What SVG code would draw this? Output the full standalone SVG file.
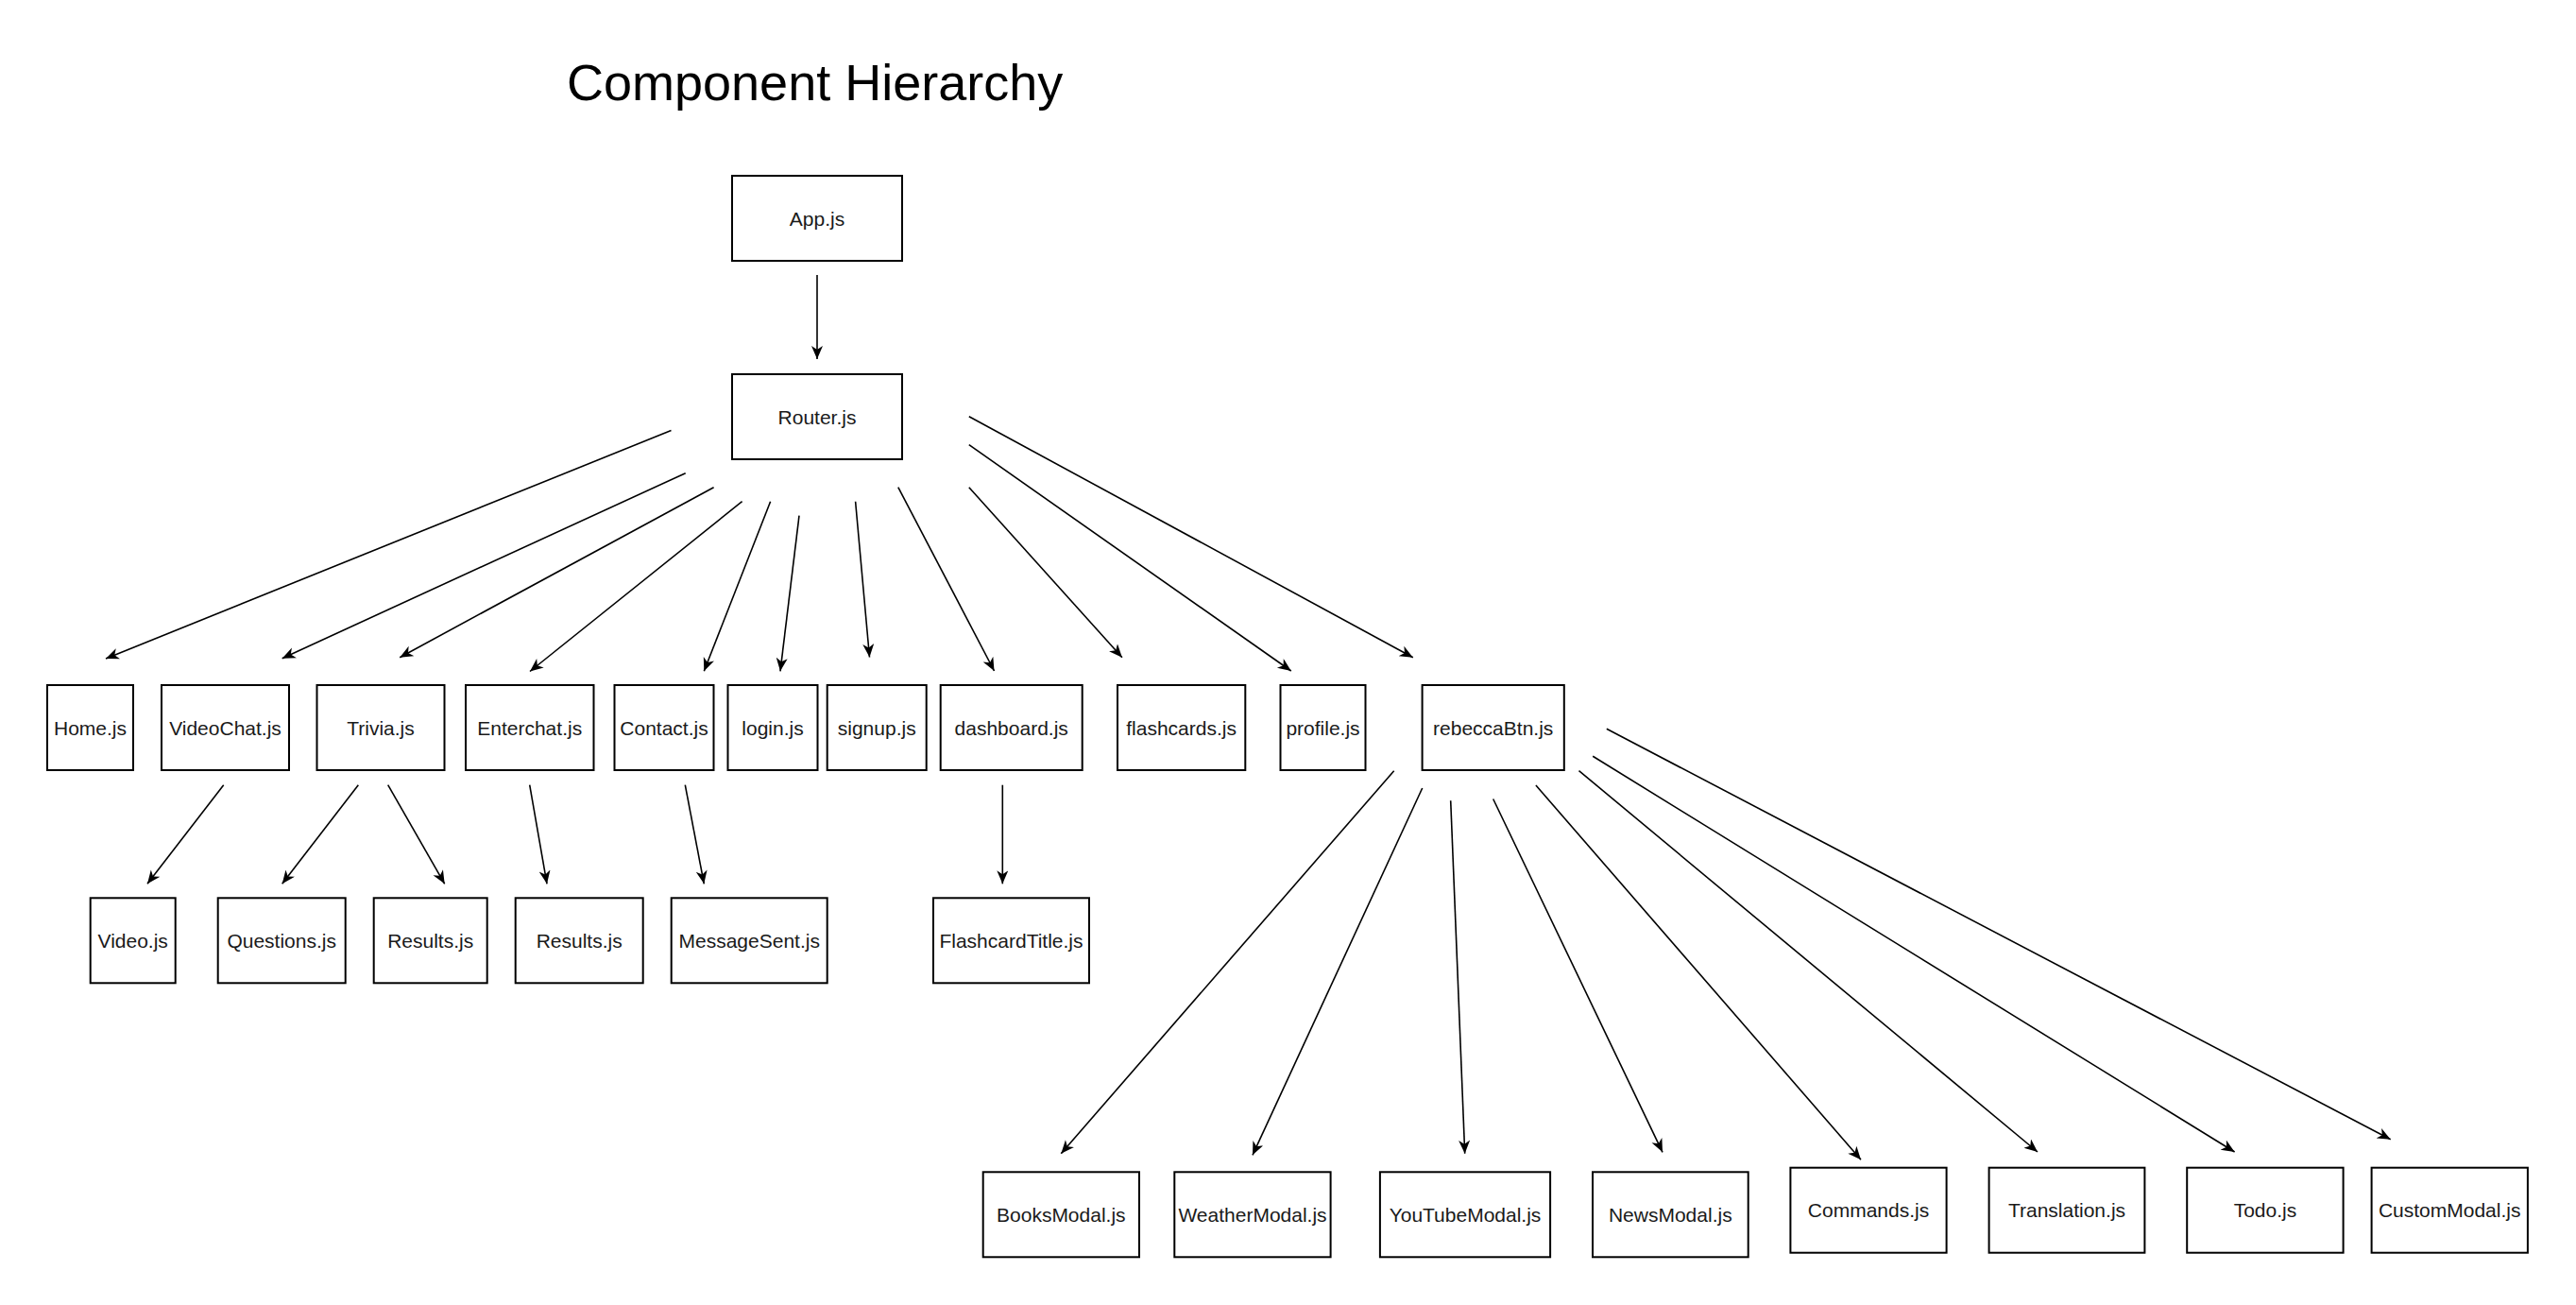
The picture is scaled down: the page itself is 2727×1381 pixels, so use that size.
<svg xmlns="http://www.w3.org/2000/svg" width="2727" height="1381" viewBox="0 0 2727 1381">
<style>
.n rect{fill:#fff;stroke:#000;stroke-width:2}
.n text{font-family:"Liberation Sans",Arial,sans-serif;font-size:21px;fill:#1a1a1a;text-anchor:middle;dominant-baseline:central}
.title{font-family:"Liberation Sans",Arial,sans-serif;font-size:54px;fill:#000}
#edges line{stroke:#000;stroke-width:1.6;marker-end:url(#arr)}
</style>
<defs>
<marker id="arr" markerUnits="userSpaceOnUse" markerWidth="16" markerHeight="14" refX="14" refY="6" orient="auto">
<path d="M0,0 L14,6 L0,12 L4,6 Z" fill="#000"/>
</marker>
</defs>
<rect width="2727" height="1381" fill="#fff"/>
<text class="title" x="600" y="106">Component Hierarchy</text>

<g id="edges">
<line x1="865" y1="291" x2="865" y2="380"/>
<line x1="710.5" y1="455.5" x2="112" y2="697"/>
<line x1="725.7" y1="500.7" x2="298.7" y2="696.7"/>
<line x1="755.6" y1="515.7" x2="423.2" y2="695.7"/>
<line x1="785.6" y1="530.7" x2="561" y2="710.5"/>
<line x1="815.6" y1="530.7" x2="745.3" y2="710.3"/>
<line x1="846" y1="545.7" x2="826" y2="710.3"/>
<line x1="905.6" y1="530.7" x2="920.5" y2="695.5"/>
<line x1="950.8" y1="515.7" x2="1052.5" y2="710"/>
<line x1="1025.8" y1="515.7" x2="1187.9" y2="695.7"/>
<line x1="1025.8" y1="470.7" x2="1366.8" y2="710"/>
<line x1="1025.8" y1="440.7" x2="1495.8" y2="695.7"/>
<line x1="236.7" y1="830.7" x2="156" y2="935.3"/>
<line x1="379.3" y1="830.7" x2="298.7" y2="935.3"/>
<line x1="410.7" y1="830.7" x2="470.7" y2="935.3"/>
<line x1="560.7" y1="830.7" x2="579" y2="935.3"/>
<line x1="725.3" y1="830.7" x2="745.3" y2="935.3"/>
<line x1="1061.3" y1="830.7" x2="1061.3" y2="935.3"/>
<line x1="1475.7" y1="815.7" x2="1123.3" y2="1220.7"/>
<line x1="1505.7" y1="834" x2="1326" y2="1222.3"/>
<line x1="1535.7" y1="847.3" x2="1550.7" y2="1220.7"/>
<line x1="1580.7" y1="845.5" x2="1760" y2="1219.3"/>
<line x1="1625.9" y1="831" x2="1970" y2="1227.3"/>
<line x1="1671.5" y1="815.7" x2="2157" y2="1219"/>
<line x1="1686.2" y1="800.3" x2="2365.6" y2="1219"/>
<line x1="1700.8" y1="771.3" x2="2530.7" y2="1205.8"/>
</g>

<g id="app" class="n"><rect x="775" y="186" width="180" height="90"/><text x="865" y="231">App.js</text></g>
<g id="router" class="n"><rect x="775" y="396" width="180" height="90"/><text x="865" y="441">Router.js</text></g>

<g id="home" class="n"><rect x="50" y="725" width="91" height="90"/><text x="95.5" y="770">Home.js</text></g>
<g id="videochat" class="n"><rect x="171" y="725" width="135" height="90"/><text x="238.5" y="770">VideoChat.js</text></g>
<g id="trivia" class="n"><rect x="335.5" y="725" width="135" height="90"/><text x="403" y="770">Trivia.js</text></g>
<g id="enterchat" class="n"><rect x="493" y="725" width="135.5" height="90"/><text x="560.7" y="770">Enterchat.js</text></g>
<g id="contact" class="n"><rect x="650.5" y="725" width="105" height="90"/><text x="703" y="770">Contact.js</text></g>
<g id="login" class="n"><rect x="770.5" y="725" width="95" height="90"/><text x="818" y="770">login.js</text></g>
<g id="signup" class="n"><rect x="875.7" y="725" width="105" height="90"/><text x="928.2" y="770">signup.js</text></g>
<g id="dashboard" class="n"><rect x="995.7" y="725" width="150" height="90"/><text x="1070.7" y="770">dashboard.js</text></g>
<g id="flashcards" class="n"><rect x="1183" y="725" width="135.3" height="90"/><text x="1250.6" y="770">flashcards.js</text></g>
<g id="profile" class="n"><rect x="1355.5" y="725" width="90" height="90"/><text x="1400.5" y="770">profile.js</text></g>
<g id="rebeccabtn" class="n"><rect x="1505.6" y="725" width="150.2" height="90"/><text x="1580.7" y="770">rebeccaBtn.js</text></g>

<g id="video" class="n"><rect x="95.7" y="950.3" width="90" height="90"/><text x="140.7" y="995.3">Video.js</text></g>
<g id="questions" class="n"><rect x="230.7" y="950.3" width="135" height="90"/><text x="298.2" y="995.3">Questions.js</text></g>
<g id="results1" class="n"><rect x="395.7" y="950.3" width="120" height="90"/><text x="455.7" y="995.3">Results.js</text></g>
<g id="results2" class="n"><rect x="545.7" y="950.3" width="135" height="90"/><text x="613.2" y="995.3">Results.js</text></g>
<g id="messagesent" class="n"><rect x="710.7" y="950.3" width="165" height="90"/><text x="793.2" y="995.3">MessageSent.js</text></g>
<g id="flashcardtitle" class="n"><rect x="988" y="950.3" width="165" height="90"/><text x="1070.5" y="995.3">FlashcardTitle.js</text></g>

<g id="booksmodal" class="n"><rect x="1040.7" y="1240.3" width="165.3" height="90"/><text x="1123.3" y="1285.3">BooksModal.js</text></g>
<g id="weathermodal" class="n"><rect x="1243.3" y="1240.3" width="165.3" height="90"/><text x="1326" y="1285.3">WeatherModal.js</text></g>
<g id="youtubemodal" class="n"><rect x="1460.9" y="1240.3" width="180.2" height="90"/><text x="1551" y="1285.3">YouTubeModal.js</text></g>
<g id="newsmodal" class="n"><rect x="1686" y="1240.3" width="164.7" height="90"/><text x="1768.3" y="1285.3">NewsModal.js</text></g>
<g id="commands" class="n"><rect x="1895.4" y="1235.7" width="165.2" height="90"/><text x="1978" y="1280.7">Commands.js</text></g>
<g id="translation" class="n"><rect x="2105.6" y="1235.7" width="164.8" height="90"/><text x="2188" y="1280.7">Translation.js</text></g>
<g id="todo" class="n"><rect x="2315.2" y="1235.7" width="165.4" height="90"/><text x="2397.9" y="1280.7">Todo.js</text></g>
<g id="custommodal" class="n"><rect x="2510.6" y="1235.7" width="165.3" height="90"/><text x="2593.2" y="1280.7">CustomModal.js</text></g>
</svg>
